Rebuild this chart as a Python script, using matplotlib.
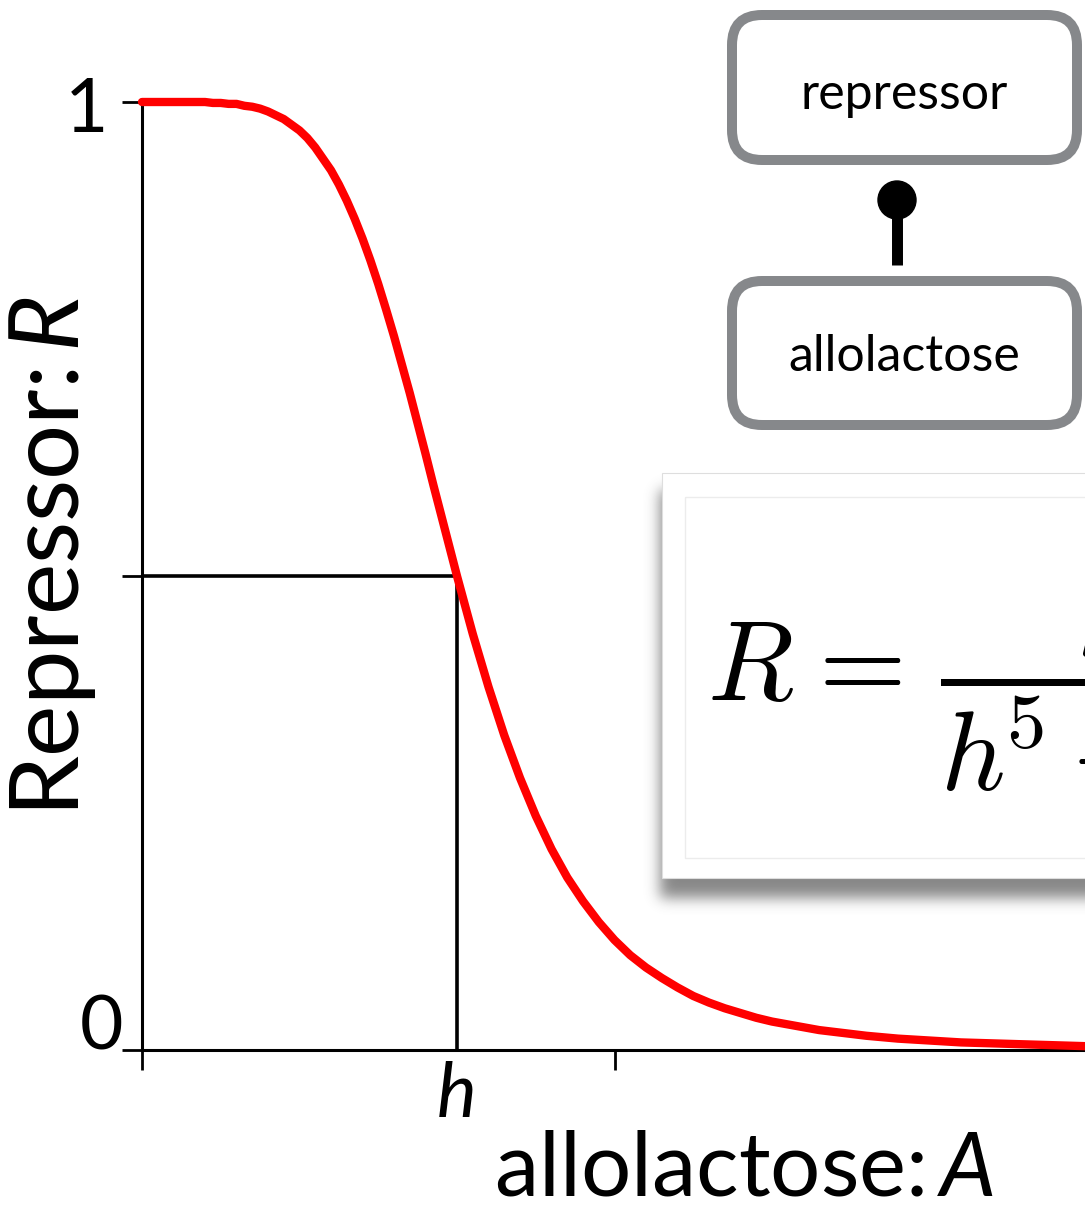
import numpy as np
import matplotlib
matplotlib.use('Agg')
import matplotlib.pyplot as plt
from matplotlib.patches import FancyBboxPatch, Rectangle, Circle

plt.rcParams['font.family'] = ['Lato', 'DejaVu Sans']
plt.rcParams['mathtext.fontset'] = 'custom'
plt.rcParams['mathtext.rm'] = 'Lato'
plt.rcParams['mathtext.it'] = 'Lato:italic'

# allolactose A (in units of h) and repressor R
allolactose = [0.0, 0.15, 0.2, 0.225, 0.25, 0.275, 0.3, 0.325, 0.35, 0.375, 0.4, 0.425,
               0.45, 0.475, 0.5, 0.525, 0.55, 0.575, 0.6, 0.625, 0.65, 0.675, 0.7, 0.725,
               0.75, 0.775, 0.8, 0.825, 0.85, 0.875, 0.9, 0.925, 0.95, 0.975, 1.0, 1.05,
               1.1, 1.15, 1.2, 1.25, 1.3, 1.35, 1.4, 1.45, 1.5, 1.55, 1.6, 1.65,
               1.7, 1.75, 1.8, 1.85, 1.9, 1.95, 2.0, 2.05, 2.1, 2.15, 2.2, 2.25,
               2.3, 2.4, 2.5, 2.6, 2.7, 2.8, 2.9, 3.0]
repressor = [1.0, 1.0, 1.0, 0.999, 0.999, 0.998, 0.998, 0.996, 0.995, 0.993, 0.99, 0.986,
             0.982, 0.976, 0.97, 0.962, 0.952, 0.94, 0.928, 0.913, 0.896, 0.877, 0.856, 0.833,
             0.808, 0.781, 0.753, 0.723, 0.693, 0.661, 0.629, 0.596, 0.564, 0.532, 0.5, 0.439,
             0.383, 0.332, 0.287, 0.247, 0.212, 0.182, 0.157, 0.135, 0.116, 0.100, 0.087, 0.076,
             0.066, 0.057, 0.050, 0.044, 0.039, 0.034, 0.030, 0.027, 0.024, 0.021, 0.019, 0.017,
             0.015, 0.012, 0.010, 0.008, 0.007, 0.006, 0.005, 0.004]

# half-maximum point (A = h, R = 1/2)
h_value = 1.0
half_value = 0.5
x_ticks = [0, 1.5]
y_ticks = [0, 0.5, 1]

W, H = 1085, 1206
fig = plt.figure(figsize=(W / 100, H / 100), dpi=100)
ax = fig.add_axes([142 / W, 156 / H, 945 / W, 948 / H])
ax.set_xlim(0, 3)
ax.set_ylim(0, 1)

ax.plot(allolactose, repressor, color='#ff0000', lw=6.0, solid_capstyle='round',
        solid_joinstyle='round', clip_on=False, zorder=4)
ax.plot([0, h_value, h_value], [half_value, half_value, 0], color='black', lw=2.6,
        solid_joinstyle='miter', zorder=3)

for s in ['top', 'right']:
    ax.spines[s].set_visible(False)
for s in ['left', 'bottom']:
    ax.spines[s].set_linewidth(2.2)
ax.set_xticks(x_ticks)
ax.set_yticks(y_ticks)
ax.set_xticklabels([])
ax.set_yticklabels([])
ax.tick_params(direction='out', length=14.4, width=2.0, color='black')

# tick labels
ax.annotate('1', xy=(0, 1), xycoords='data', xytext=(-34, -30), textcoords='offset pixels',
            ha='right', va='baseline', fontsize=54)
ax.annotate('0', xy=(0, 0), xycoords='data', xytext=(-19, 0), textcoords='offset pixels',
            ha='right', va='baseline', fontsize=54)
ax.annotate('h', xy=(h_value, 0), xycoords='data', xytext=(0, -67), textcoords='offset pixels',
            ha='center', va='baseline', fontsize=54, style='italic')

# axis titles
fig.text(744 / W, 1 - 1196 / H, r'allolactose:$\,\mathit{A}$', ha='center', va='baseline',
         fontsize=64)
fig.text(52 / W, 1 - 557 / H, r'Repressor:$\,\mathit{R}$', ha='center', va='center',
         rotation=90, fontsize=70)

# overlay in pixel units for the diagram and the equation card
ov = fig.add_axes([0, 0, 1, 1], zorder=5)
ov.axis('off')

# soft drop shadow behind the card
sx0, sx1, sy0, sy1 = 630, 1130, 450, 950
yy, xx = np.mgrid[sy0:sy1, sx0:sx1] + 0.5
mask = ((xx > 660) & (yy > 490) & (yy < 898)).astype(float)
k = np.exp(-0.5 * (np.arange(-24, 25) / 7.0) ** 2)
k /= k.sum()
blur = np.apply_along_axis(lambda r: np.convolve(r, k, mode='same'), 1, mask)
blur = np.apply_along_axis(lambda c: np.convolve(c, k, mode='same'), 0, blur)
rgba = np.zeros(blur.shape + (4,))
rgba[..., :3] = 0.28
rgba[..., 3] = 0.65 * blur
ov.imshow(rgba, extent=(sx0, sx1, sy1, sy0), interpolation='bilinear', aspect='auto', zorder=1)

ov.add_patch(Rectangle((662, 473), 520, 405, fc='white', ec='#dedede', lw=0.8, zorder=2))
ov.add_patch(Rectangle((685, 497), 520, 361, fc='none', ec='#ececec', lw=1.0, zorder=3))
ov.text(707, 701, r'$R\hspace{0.06}=\hspace{0.15}\dfrac{h^{\!5}}{h^{\!5} + A^{5}}$', fontsize=81,
        math_fontfamily='cm', ha='left', va='baseline', zorder=4)

# repressor / allolactose interaction diagram
box_kw = dict(boxstyle='round,pad=0,rounding_size=30', fc='white', ec='#86888b', lw=7.2, zorder=2)
ov.add_patch(FancyBboxPatch((732, 15), 345, 145, **box_kw))
ov.add_patch(FancyBboxPatch((732, 281), 345, 144, **box_kw))
ov.text(904, 95, 'repressor', ha='center', va='center', fontsize=36, zorder=3)
ov.text(904, 357, 'allolactose', ha='center', va='center', fontsize=36, zorder=3)
ov.plot([897, 897], [200, 265], color='black', lw=7.9, solid_capstyle='butt', zorder=3)
ov.add_patch(Circle((897, 200), 19, color='black', zorder=3))

ov.set_xlim(0, W)
ov.set_ylim(H, 0)

fig.savefig('out.png', dpi=100)
